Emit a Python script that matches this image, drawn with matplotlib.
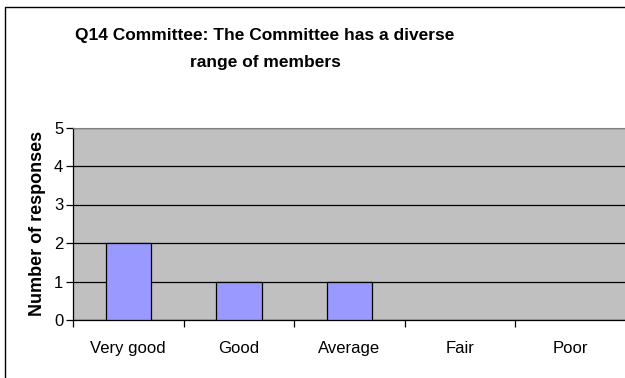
import numpy as np
import matplotlib.pyplot as plt
from matplotlib.patches import Rectangle

categories = ['Very good', 'Good', 'Average', 'Fair', 'Poor']
responses = [2, 1, 1, 0, 0]
yticks = [0, 1, 2, 3, 4, 5]

plt.rcParams['font.family'] = ['Liberation Sans', 'DejaVu Sans']

W, H = 625, 378
fig = plt.figure(figsize=(W / 100, H / 100), dpi=100)

# chart frame (runs off the right and bottom edges)
fig.patches.append(Rectangle((4.5 / W, -0.1), 1.2, 1 - 6.5 / H + 0.1,
                             transform=fig.transFigure, fill=False,
                             edgecolor='black', linewidth=1.0))

ax = fig.add_axes([73 / W, 1 - 320 / H, 553 / W, 192.5 / H])
ax.set_facecolor('#C0C0C0')

x = np.arange(len(categories))
edges = ['black' if v > 0 else 'none' for v in responses]
ax.bar(x, responses, width=0.41, color='#9999FF', edgecolor=edges,
       linewidth=0.9, zorder=3)

ax.set_xlim(-0.5, len(categories) - 0.5)
ax.set_ylim(0, 5)
ax.set_yticks(yticks)
ax.yaxis.grid(True, color='black', linewidth=0.9, zorder=1)
ax.set_axisbelow(True)

# category ticks sit between the groups, labels at the centres
ax.set_xticks(np.arange(len(categories) + 1) - 0.5)
ax.set_xticklabels([])
ax.set_xticks(x, minor=True)
ax.set_xticklabels(categories, minor=True)
ax.tick_params(axis='x', which='minor', length=0, pad=15, labelsize=12)
ax.tick_params(axis='x', which='major', length=5, direction='out', width=0.9)
ax.tick_params(axis='y', length=5, direction='out', width=0.9, labelsize=12, pad=2)

ax.spines['top'].set_color('#808080')
ax.spines['right'].set_visible(False)
for s in ('left', 'bottom'):
    ax.spines[s].set_linewidth(0.9)

ax.set_ylabel('Number of responses', fontsize=13, fontweight='bold', labelpad=6)

fig.text(265 / W, 1 - 49 / H, 'Q14 Committee: The Committee has a diverse\nrange of members',
         ha='center', va='center', fontsize=12.5, fontweight='bold', linespacing=2.0)

fig.savefig('out.png', dpi=100)
